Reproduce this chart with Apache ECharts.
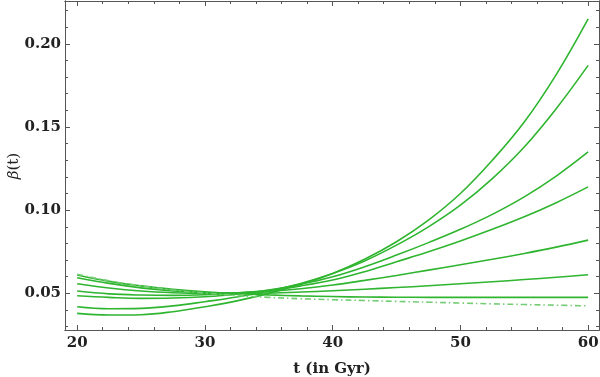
<!DOCTYPE html>
<html style="height: 100%">
<head>
    <meta charset="utf-8">
</head>
<body style="height: 100%; margin: 0; background: #fff">
<div id="main" style="width: 600px; height: 377px"></div>
<script src="https://cdn.jsdelivr.net/npm/echarts@6/dist/echarts.min.js"></script>
<script type="text/javascript">
    // data (every 2.5 Gyr)
    var tValues = [20, 22.5, 25, 27.5, 30, 32.5, 35, 37.5, 40, 42.5, 45, 47.5, 50, 52.5, 55, 57.5, 60];
    var curveA = [0.0380, 0.0370, 0.0372, 0.0390, 0.0420, 0.0455, 0.0500, 0.0555, 0.0620, 0.0705, 0.0810, 0.0940, 0.1100, 0.1300, 0.1530, 0.1815, 0.2150];
    var curveB = [0.0420, 0.0408, 0.0410, 0.0425, 0.0450, 0.0478, 0.0515, 0.0560, 0.0620, 0.0695, 0.0790, 0.0900, 0.1030, 0.1190, 0.1380, 0.1610, 0.1870];
    var curveC = [0.0486, 0.0476, 0.0470, 0.0472, 0.0480, 0.0495, 0.0520, 0.0555, 0.0600, 0.0660, 0.0730, 0.0805, 0.0885, 0.0975, 0.1080, 0.1205, 0.1350];
    var curveD = [0.0514, 0.0497, 0.0490, 0.0488, 0.0492, 0.0502, 0.0518, 0.0545, 0.0580, 0.0630, 0.0690, 0.0750, 0.0815, 0.0885, 0.0960, 0.1045, 0.1140];
    var curveE = [0.0558, 0.0532, 0.0514, 0.0504, 0.0500, 0.0503, 0.0512, 0.0528, 0.0550, 0.0578, 0.0608, 0.0640, 0.0672, 0.0705, 0.0740, 0.0778, 0.0820];
    var curveF = [0.0594, 0.0560, 0.0533, 0.0515, 0.0504, 0.0500, 0.0502, 0.0508, 0.0516, 0.0525, 0.0535, 0.0546, 0.0558, 0.0570, 0.0583, 0.0597, 0.0612];
    var curveG = [0.0610, 0.0572, 0.0545, 0.0525, 0.0510, 0.0499, 0.0491, 0.0485, 0.0481, 0.0478, 0.0477, 0.0476, 0.0476, 0.0476, 0.0476, 0.0476, 0.0476];
    var curveDash = [0.0615, 0.0575, 0.0545, 0.0520, 0.0502, 0.0487, 0.0476, 0.0468, 0.0462, 0.0457, 0.0452, 0.0447, 0.0442, 0.0437, 0.0433, 0.0429, 0.0425];

    var xTicks = [20, 30, 40, 50, 60];
    var xMinorTicks = [22, 24, 26, 28, 32, 34, 36, 38, 42, 44, 46, 48, 52, 54, 56, 58];
    var yTicks = [0.05, 0.10, 0.15, 0.20];
    var yMinorTicks = [0.03, 0.04, 0.06, 0.07, 0.08, 0.09, 0.11, 0.12, 0.13, 0.14, 0.16, 0.17, 0.18, 0.19, 0.21, 0.22];

    var green = '#2fb52f';
    var axisColor = '#555';
    var labelFont = {fontFamily: 'DejaVu Serif', fontWeight: 'bold', fontSize: 15, color: '#222'};

    function pairs(ys) {
        var out = [];
        for (var i = 0; i < tValues.length; i++) {
            out.push([tValues[i], ys[i]]);
        }
        return out;
    }

    function solid(ys) {
        return {
            type: 'line', smooth: 0.4, symbol: 'none',
            xAxisIndex: 0, yAxisIndex: 0,
            lineStyle: {color: green, width: 1.6},
            data: pairs(ys)
        };
    }

    // frame axes: labelled one, minor ticks, and opposite side copies
    function xAx(pos, ticks, len, withLabel) {
        return {
            type: 'value', position: pos, min: 19.05, max: 60.85,
            axisLine: {show: true, onZero: false, lineStyle: {color: axisColor, width: 1}},
            axisTick: {show: true, inside: true, length: len, customValues: ticks, lineStyle: {color: axisColor}},
            axisLabel: withLabel ? Object.assign({show: true, margin: 6, customValues: xTicks}, labelFont) : {show: false},
            splitLine: {show: false}
        };
    }
    function yAx(pos, ticks, len, withLabel) {
        return {
            type: 'value', position: pos, min: 0.028, max: 0.2257,
            axisLine: {show: true, onZero: false, lineStyle: {color: axisColor, width: 1}},
            axisTick: {show: true, inside: true, length: len, customValues: ticks, lineStyle: {color: axisColor}},
            axisLabel: withLabel ? Object.assign({
                show: true, margin: 4, customValues: yTicks,
                formatter: function (v) { return v.toFixed(2); }
            }, labelFont) : {show: false},
            splitLine: {show: false}
        };
    }

    var xMain = xAx('bottom', xTicks, 5, true);
    xMain.name = 't (in Gyr)';
    xMain.nameLocation = 'middle';
    xMain.nameGap = 32;
    xMain.nameTextStyle = labelFont;

    var chart = echarts.init(document.getElementById('main'));
    chart.setOption({
        animation: false,
        backgroundColor: '#fff',
        grid: {left: 65, right: 1, top: 1, bottom: 47, outerBoundsMode: 'none', containLabel: false},
        xAxis: [xMain, xAx('bottom', xMinorTicks, 3, false), xAx('top', xTicks, 5, false), xAx('top', xMinorTicks, 3, false)],
        yAxis: [yAx('left', yTicks, 5, true), yAx('left', yMinorTicks, 3, false), yAx('right', yTicks, 5, false), yAx('right', yMinorTicks, 3, false)],
        // y axis title
        graphic: [{
            type: 'text', x: 14, y: 166, rotation: Math.PI / 2,
            style: {
                text: '{b|β}(t)', align: 'center', verticalAlign: 'middle',
                fontFamily: 'DejaVu Serif', fontSize: 15, fill: '#222',
                rich: {b: {fontFamily: 'DejaVu Serif', fontStyle: 'italic', fontSize: 15, fill: '#222'}}
            }
        }],
        series: [
            solid(curveA), solid(curveB), solid(curveC), solid(curveD),
            solid(curveE), solid(curveF), solid(curveG),
            {
                type: 'line', smooth: 0.4, symbol: 'none',
                xAxisIndex: 0, yAxisIndex: 0,
                lineStyle: {color: '#74cc74', width: 1.6, type: [6, 3, 1.5, 3]},
                data: pairs(curveDash)
            }
        ]
    });
</script>
</body>
</html>
